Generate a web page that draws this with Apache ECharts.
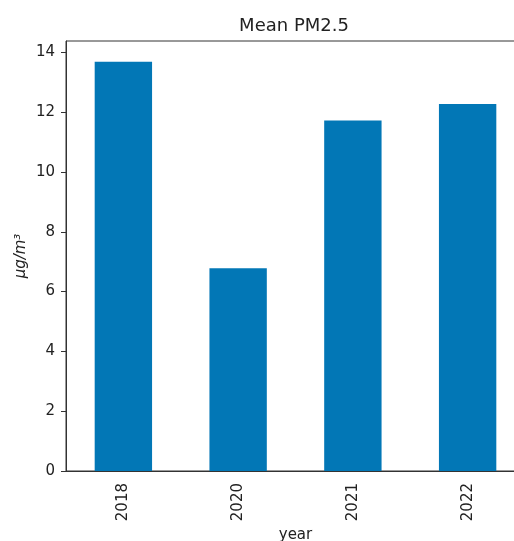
<!DOCTYPE html>
<html><head><meta charset="utf-8">
<script src="https://cdn.jsdelivr.net/npm/echarts@6/dist/echarts.min.js"></script>
<style>html,body{margin:0;padding:0;background:#fff}#c{width:514px;height:541px}</style>
</head><body><div id="c"></div>
<script>
const categories = ['2018', '2020', '2021', '2022'];
const meanPM25 = [13.69, 6.78, 11.72, 12.27];
const yTicks = [0, 2, 4, 6, 8, 10, 12, 14];

const chart = echarts.init(document.getElementById('c'), null, {renderer: 'canvas'});
const font = 'DejaVu Sans';
chart.setOption({
  animation: false,
  backgroundColor: '#fff',
  title: {
    text: 'Mean PM2.5', left: 289, top: 12, textAlign: 'center',
    textStyle: {fontFamily: font, fontSize: 18, fontWeight: 'normal', color: '#222'}
  },
  grid: {left: 66, top: 41, width: 459, height: 430, show: true, borderColor: '#333', borderWidth: 1,
         containLabel: false, outerBoundsMode: 'none'},
  xAxis: {
    type: 'category', data: categories,
    name: 'year', nameLocation: 'middle', nameGap: 57, nameMoveOverlap: false,
    nameTextStyle: {fontFamily: font, fontSize: 15, color: '#222'},
    axisLine: {lineStyle: {color: '#333', width: 1}},
    axisTick: {alignWithLabel: true, length: 5, lineStyle: {color: '#333'}},
    axisLabel: {rotate: 90, fontFamily: font, fontSize: 15, color: '#222', margin: 12}
  },
  yAxis: {
    type: 'value', min: 0, max: 14.38,
    name: 'μg/m³', nameLocation: 'middle', nameGap: 37, nameMoveOverlap: false,
    nameTextStyle: {fontFamily: font, fontSize: 15, color: '#222', fontStyle: 'italic'},
    axisLine: {show: true, lineStyle: {color: '#333', width: 1}},
    axisTick: {show: true, length: 5, lineStyle: {color: '#333'}, customValues: yTicks},
    axisLabel: {fontFamily: font, fontSize: 15, color: '#222', margin: 11, customValues: yTicks},
    splitLine: {show: false}
  },
  series: [{
    type: 'bar', data: meanPM25, barWidth: '50%',
    itemStyle: {color: '#0277b6'}
  }]
});
</script></body></html>
